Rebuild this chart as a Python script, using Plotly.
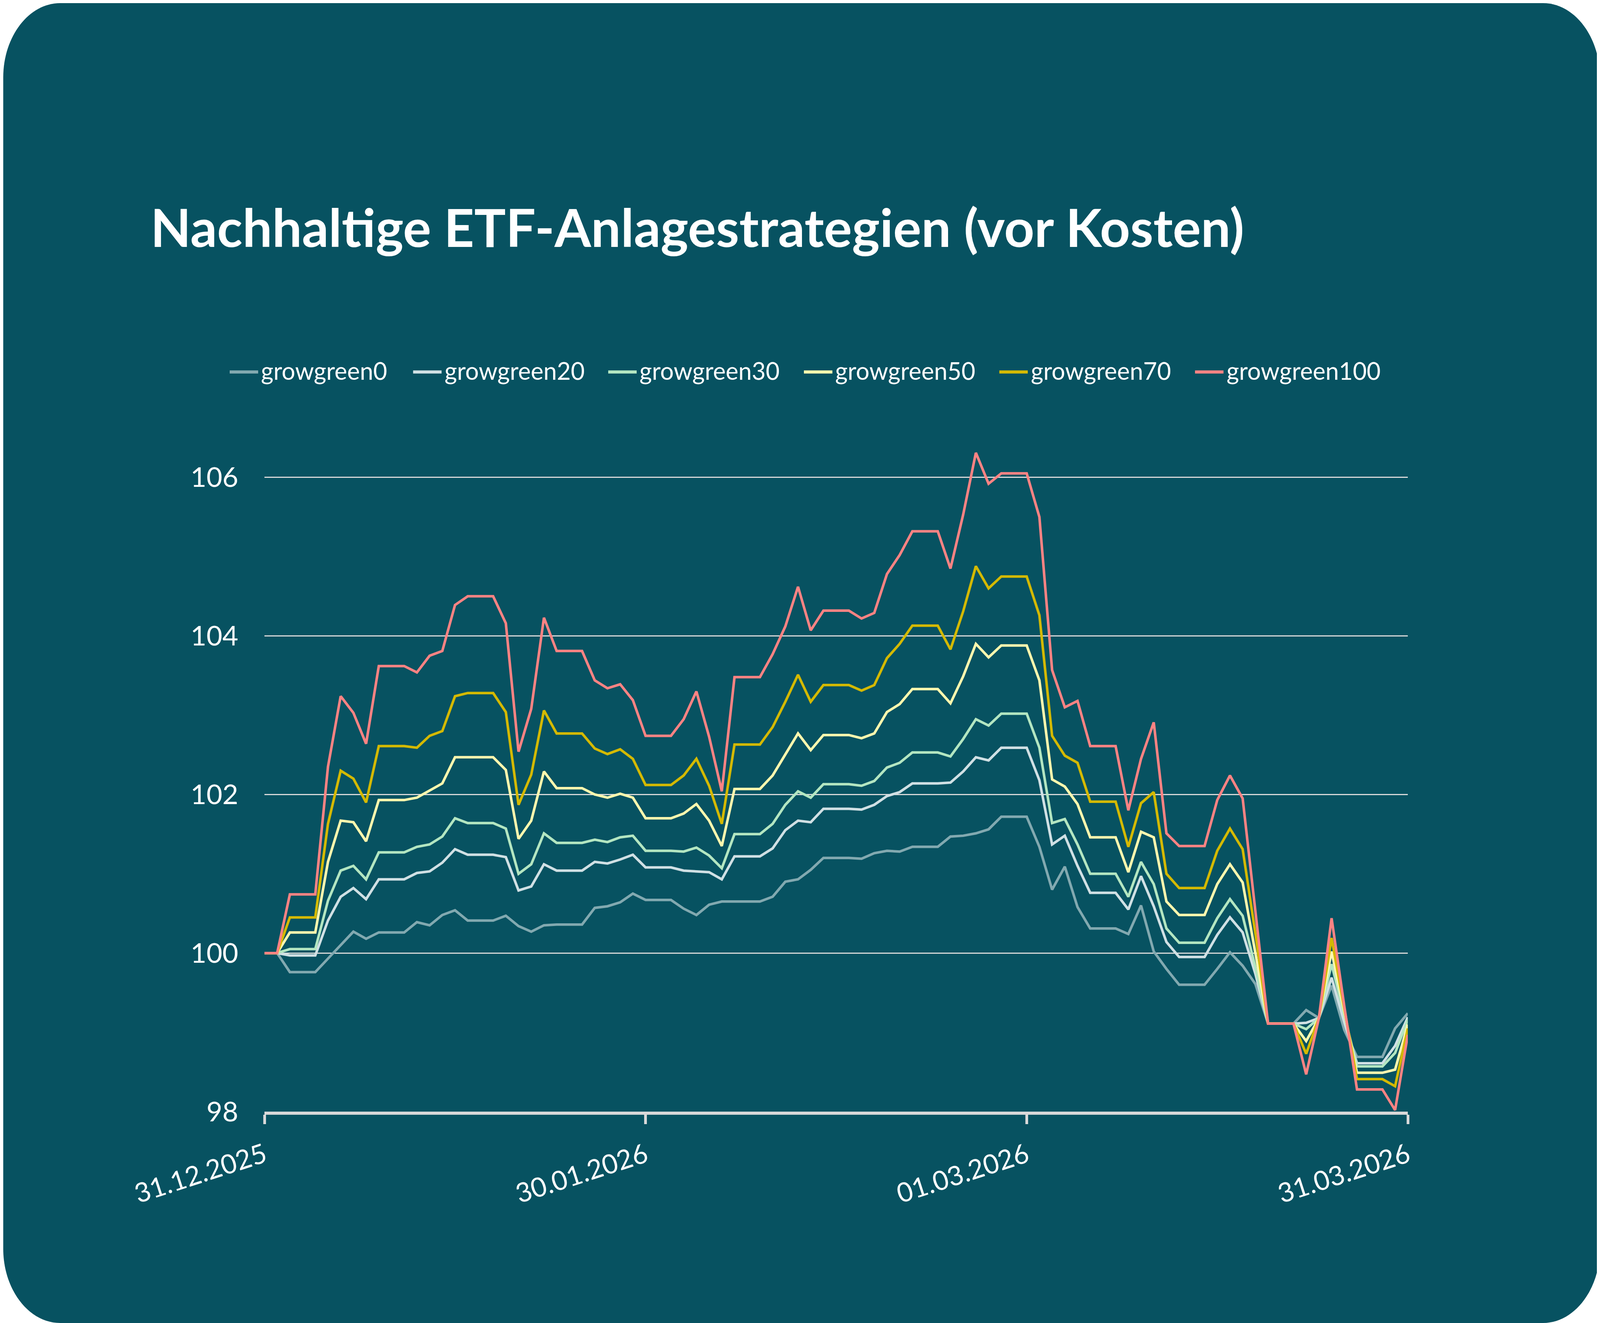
"""
Nachhaltige ETF-Anlagestrategien (vor Kosten) - Indexverlauf 31.12.2025 bis 31.03.2026.

Sechs growgreen-Strategien als Linien, Startwert 100, taegliche Werte
(Wochenenden mit dem Freitagswert).
"""

import pandas as pd
import plotly.graph_objects as go

# Tage 31.12.2025 .. 31.03.2026
dates = pd.date_range("2025-12-31", "2026-03-31", freq="D")

growgreen0 = [
    100.00, 100.00, 99.76, 99.76, 99.76, 99.93, 100.10, 100.27, 100.18, 100.26,
    100.26, 100.26, 100.39, 100.35, 100.48, 100.54, 100.41, 100.41, 100.41, 100.47,
    100.34, 100.27, 100.35, 100.36, 100.36, 100.36, 100.57, 100.59, 100.64, 100.75,
    100.67, 100.67, 100.67, 100.56, 100.48, 100.61, 100.65, 100.65, 100.65, 100.65,
    100.71, 100.90, 100.93, 101.05, 101.20, 101.20, 101.20, 101.19, 101.26, 101.29,
    101.28, 101.34, 101.34, 101.34, 101.47, 101.48, 101.51, 101.56, 101.72, 101.72,
    101.72, 101.34, 100.80, 101.09, 100.58, 100.31, 100.31, 100.31, 100.24, 100.60,
    100.02, 99.80, 99.60, 99.60, 99.60, 99.80, 100.01, 99.84, 99.61, 99.11,
    99.11, 99.11, 99.28, 99.18, 99.59, 99.03, 98.69, 98.69, 98.69, 99.05,
    99.24,
]
growgreen20 = [
    100.00, 100.00, 99.97, 99.97, 99.97, 100.41, 100.71, 100.82, 100.68, 100.93,
    100.93, 100.93, 101.01, 101.03, 101.14, 101.31, 101.24, 101.24, 101.24, 101.21,
    100.79, 100.84, 101.12, 101.04, 101.04, 101.04, 101.15, 101.13, 101.18, 101.24,
    101.08, 101.08, 101.08, 101.04, 101.03, 101.02, 100.93, 101.22, 101.22, 101.22,
    101.32, 101.55, 101.67, 101.65, 101.82, 101.82, 101.82, 101.81, 101.87, 101.98,
    102.03, 102.14, 102.14, 102.14, 102.15, 102.29, 102.47, 102.43, 102.59, 102.59,
    102.59, 102.18, 101.37, 101.48, 101.10, 100.76, 100.76, 100.76, 100.55, 100.97,
    100.59, 100.14, 99.95, 99.95, 99.95, 100.23, 100.45, 100.26, 99.74, 99.11,
    99.11, 99.11, 99.12, 99.18, 99.69, 99.13, 98.61, 98.61, 98.61, 98.83,
    99.19,
]
growgreen30 = [
    100.00, 100.00, 100.05, 100.05, 100.05, 100.66, 101.04, 101.10, 100.93, 101.27,
    101.27, 101.27, 101.34, 101.37, 101.47, 101.70, 101.64, 101.64, 101.64, 101.57,
    101.00, 101.12, 101.51, 101.39, 101.39, 101.39, 101.43, 101.40, 101.46, 101.48,
    101.29, 101.29, 101.29, 101.28, 101.33, 101.23, 101.07, 101.50, 101.50, 101.50,
    101.63, 101.87, 102.04, 101.96, 102.13, 102.13, 102.13, 102.11, 102.17, 102.34,
    102.40, 102.53, 102.53, 102.53, 102.48, 102.70, 102.95, 102.87, 103.02, 103.02,
    103.02, 102.59, 101.64, 101.69, 101.37, 101.00, 101.00, 101.00, 100.71, 101.15,
    100.87, 100.31, 100.13, 100.13, 100.13, 100.44, 100.68, 100.47, 99.82, 99.11,
    99.11, 99.11, 99.04, 99.18, 99.86, 99.20, 98.57, 98.57, 98.57, 98.74,
    99.16,
]
growgreen50 = [
    100.00, 100.00, 100.26, 100.26, 100.26, 101.15, 101.67, 101.65, 101.41, 101.93,
    101.93, 101.93, 101.96, 102.05, 102.14, 102.47, 102.47, 102.47, 102.47, 102.31,
    101.44, 101.67, 102.29, 102.08, 102.08, 102.08, 102.00, 101.96, 102.01, 101.96,
    101.70, 101.70, 101.70, 101.76, 101.88, 101.67, 101.35, 102.07, 102.07, 102.07,
    102.24, 102.51, 102.77, 102.56, 102.75, 102.75, 102.75, 102.71, 102.77, 103.04,
    103.14, 103.33, 103.33, 103.33, 103.15, 103.49, 103.90, 103.73, 103.88, 103.88,
    103.88, 103.44, 102.19, 102.10, 101.88, 101.46, 101.46, 101.46, 101.02, 101.53,
    101.46, 100.65, 100.48, 100.48, 100.48, 100.87, 101.12, 100.89, 100.00, 99.11,
    99.11, 99.11, 98.89, 99.18, 100.02, 99.24, 98.49, 98.49, 98.49, 98.53,
    99.10,
]
growgreen70 = [
    100.00, 100.00, 100.45, 100.45, 100.45, 101.63, 102.30, 102.20, 101.90, 102.61,
    102.61, 102.61, 102.59, 102.74, 102.80, 103.24, 103.28, 103.28, 103.28, 103.04,
    101.87, 102.25, 103.06, 102.77, 102.77, 102.77, 102.58, 102.51, 102.57, 102.45,
    102.12, 102.12, 102.12, 102.24, 102.45, 102.11, 101.63, 102.63, 102.63, 102.63,
    102.85, 103.17, 103.51, 103.17, 103.38, 103.38, 103.38, 103.31, 103.38, 103.72,
    103.90, 104.13, 104.13, 104.13, 103.83, 104.31, 104.88, 104.60, 104.75, 104.75,
    104.75, 104.26, 102.74, 102.49, 102.40, 101.91, 101.91, 101.91, 101.34, 101.89,
    102.03, 101.00, 100.82, 100.82, 100.82, 101.29, 101.57, 101.31, 100.25, 99.11,
    99.11, 99.11, 98.73, 99.18, 100.19, 99.28, 98.41, 98.41, 98.41, 98.32,
    99.05,
]
growgreen100 = [
    100.00, 100.00, 100.74, 100.74, 100.74, 102.35, 103.24, 103.03, 102.64, 103.62,
    103.62, 103.62, 103.54, 103.75, 103.81, 104.39, 104.50, 104.50, 104.50, 104.16,
    102.54, 103.08, 104.23, 103.81, 103.81, 103.81, 103.44, 103.34, 103.39, 103.19,
    102.74, 102.74, 102.74, 102.95, 103.30, 102.73, 102.04, 103.48, 103.48, 103.48,
    103.77, 104.12, 104.62, 104.07, 104.32, 104.32, 104.32, 104.22, 104.29, 104.78,
    105.02, 105.32, 105.32, 105.32, 104.85, 105.53, 106.31, 105.92, 106.05, 106.05,
    106.05, 105.50, 103.57, 103.10, 103.18, 102.61, 102.61, 102.61, 101.80, 102.45,
    102.91, 101.51, 101.35, 101.35, 101.35, 101.93, 102.24, 101.95, 100.55, 99.11,
    99.11, 99.11, 98.47, 99.18, 100.44, 99.33, 98.28, 98.28, 98.28, 98.02,
    98.97,
]

series_names = ["growgreen0", "growgreen20", "growgreen30",
                "growgreen50", "growgreen70", "growgreen100"]
series_values = [growgreen0, growgreen20, growgreen30,
                 growgreen50, growgreen70, growgreen100]
series_colors = ["#82a9b0", "#d0e0e4", "#b3e6c1", "#fff7ae", "#d4b900", "#ff8383"]

tick_dates = ["2025-12-31", "2026-01-30", "2026-03-01", "2026-03-31"]
tick_labels = ["31.12.2025", "30.01.2026", "01.03.2026", "31.03.2026"]
y_ticks = [98, 100, 102, 104, 106]

# Masse unten in Bildpixeln der Vorlage (5338 x 3386).
# Das Fenster liefert 4096 x 3386 CSS-px -> x wird gestaucht, y bleibt.
SX, SY = 4096 / 5338, 1.0
BODY = 8                      # Standard-Rand des <body>
FW, FH = 4096 - BODY, 3386 - BODY
TS = SX * 1.04                # Schriftgroessen
BG = "#075261"
FONT = "Lato"


def cx(px):
    """Bild-x -> CSS-x in der Figur"""
    return px * SX - BODY


def cy(py):
    """Bild-y -> CSS-y in der Figur"""
    return py * SY - BODY


# Plotbereich im Bild: x 882..4697, y 1100..2845
ML = cx(882)
MR = FW - cx(4697)
MT = cy(1100)
MB = FH - cy(2845)
PW, PH = FW - ML - MR, FH - MT - MB


def fx(px):
    """CSS-x -> paper-x"""
    return (px - ML) / PW


def fy(py):
    """CSS-y (von oben) -> paper-y"""
    return (FH - MB - py) / PH


fig = go.Figure()
for name, vals, col in zip(series_names, series_values, series_colors):
    fig.add_trace(go.Scatter(x=dates, y=vals, name=name, mode="lines",
                             line=dict(color=col, width=6.5), showlegend=False))

# Hintergrund mit abgerundeten Ecken
RX, RY, k = 190 * SX, 190 * SY, 0.45
bg_path = (
    f"M {fx(RX)},{fy(0)} L {fx(FW - RX)},{fy(0)} "
    f"C {fx(FW - RX * k)},{fy(0)} {fx(FW)},{fy(RY * k)} {fx(FW)},{fy(RY)} "
    f"L {fx(FW)},{fy(FH - RY)} "
    f"C {fx(FW)},{fy(FH - RY * k)} {fx(FW - RX * k)},{fy(FH)} {fx(FW - RX)},{fy(FH)} "
    f"L {fx(RX)},{fy(FH)} "
    f"C {fx(RX * k)},{fy(FH)} {fx(0)},{fy(FH - RY * k)} {fx(0)},{fy(FH - RY)} "
    f"L {fx(0)},{fy(RY)} "
    f"C {fx(0)},{fy(RY * k)} {fx(RX * k)},{fy(0)} {fx(RX)},{fy(0)} Z"
)
shapes = [dict(type="path", xref="paper", yref="paper", path=bg_path,
               fillcolor=BG, line=dict(width=0), layer="below")]

# Legende von Hand (Linie + Text)
annotations = []
legend_x = [766, 1378, 2029, 2682, 3334, 3987]
legend_y = 952
for lx, name, col in zip(legend_x, series_names, series_colors):
    shapes.append(dict(type="line", xref="paper", yref="paper",
                       x0=fx(cx(lx)), x1=fx(cx(lx + 95)),
                       y0=fy(cy(legend_y)), y1=fy(cy(legend_y)),
                       line=dict(color=col, width=8)))
    annotations.append(dict(xref="paper", yref="paper",
                            x=fx(cx(lx + 102)), y=fy(cy(legend_y - 4)),
                            xanchor="left", yanchor="middle", showarrow=False,
                            text=name, font=dict(family=FONT, size=77 * TS, color="white")))

fig.update_layout(
    width=FW, height=FH,
    margin=dict(l=ML, r=MR, t=MT, b=MB, pad=0),
    paper_bgcolor="white",
    plot_bgcolor="rgba(0,0,0,0)",
    shapes=shapes,
    annotations=annotations,
    title=dict(text="Nachhaltige ETF-Anlagestrategien (vor Kosten)",
               xref="container", yref="container",
               x=cx(502) / FW, xanchor="left", y=1 - cy(585) / FH, yanchor="middle",
               font=dict(family=FONT, size=169 * TS, color="white", weight="bold")),
    showlegend=False,
)

fig.update_xaxes(
    type="date", range=[dates[0], dates[-1]],
    tickvals=tick_dates, ticktext=tick_labels, tickangle=-18,
    tickfont=dict(family=FONT, size=86 * TS, color="white"),
    showgrid=False, zeroline=False,
    showline=True, linecolor="#d9d9d9", linewidth=8,
    ticks="outside", ticklen=24, tickwidth=7, tickcolor="#d9d9d9",
    ticklabelstandoff=14,
)
fig.update_yaxes(
    range=[98, 106.6], tickvals=y_ticks,
    tickfont=dict(family=FONT, size=88 * TS, color="white"),
    showgrid=True, gridcolor="#d9d9d9", gridwidth=3,
    zeroline=False, showline=False, ticks="",
    ticklabelstandoff=round(86 * SX),
)

fig.write_html("out.html")
